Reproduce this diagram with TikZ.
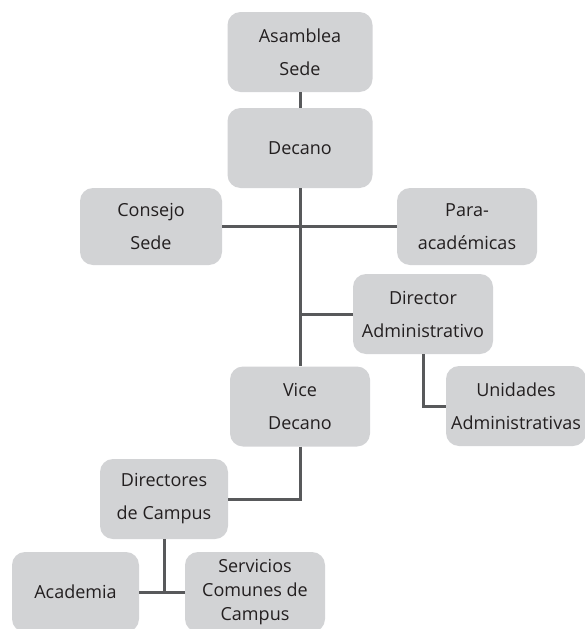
\documentclass[tikz,border=0pt]{standalone}
\usepackage{fontspec}
\setmainfont{Open Sans}
\usetikzlibrary{positioning}
\definecolor{boxgray}{HTML}{D2D3D5}
\definecolor{linegray}{HTML}{58595B}
\definecolor{textgray}{HTML}{231F20}

\begin{document}
\begin{tikzpicture}[x=1pt, y=-1pt,
    unit/.style={rectangle, rounded corners=13pt, fill=boxgray, minimum width=140pt,
        minimum height=80pt, inner sep=0pt, align=center, text=textgray,
        font=\fontsize{18}{33}\selectfont},
    link/.style={draw=linegray, line width=3pt}]
    \useasboundingbox (0,0) rectangle (585,629);

    %define the units of the chart
    \node[unit, minimum width=145pt] (asamblea) at (300,52) {Asamblea\\Sede};
    \node[unit, minimum width=145pt] (decano) at (300,148) {Decano};
    \node[unit, minimum width=142pt, minimum height=77pt] (consejo) at (151,226.5) {Consejo\\Sede};
    \node[unit, minimum height=77pt] (para) at (467,226.5) {Para-\\académicas};
    \node[unit] (diradm) at (423,314) {Director\\Administrativo};
    \node[unit] (unidades) at (516,406) {Unidades\\Administrativas};
    \node[unit] (vice) at (300,406.5) {Vice\\Decano};
    \node[unit, minimum width=128pt] (directores) at (164,499) {Directores\\de Campus};
    \node[unit, minimum width=127pt] (academia) at (75.5,592) {Academia};
    \node[unit, font=\fontsize{18}{24}\selectfont] (servicios) at (255,592) {Servicios\\Comunes de\\Campus};

    %define the links
    \path[link] (asamblea) -- (decano)
                (decano) -- (vice)
                (consejo) -- (para)
                (diradm.west) -- (diradm.west -| decano.south)
                (diradm.south) |- (unidades.west)
                (vice.south) |- (directores.east)
                (directores.south) -- (academia.east -| directores.south)
                (academia) -- (servicios);
\end{tikzpicture}
\end{document}
